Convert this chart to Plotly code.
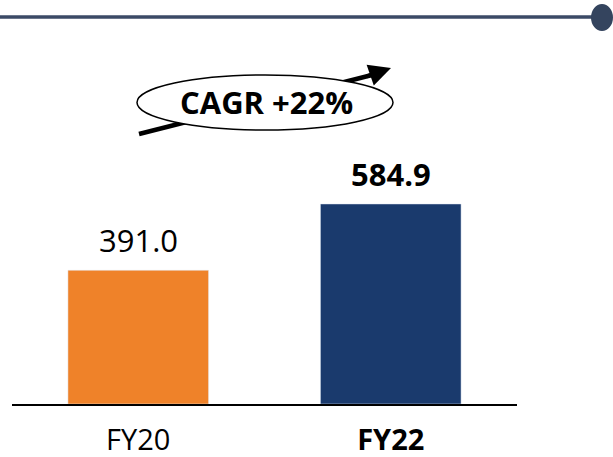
import plotly.graph_objects as go

categories = ["FY20", "FY22"]
values = [391.0, 584.9]
value_labels = ["391.0", "<b>584.9</b>"]
tick_labels = ["FY20", "<b>FY22</b>"]
bar_colors = ["#EF8229", "#1A3A6D"]
cagr_text = "<b>CAGR +22%</b>"

W, H = 613, 457
L, R, T, B = 12, 517, 62, 404

def px(x):
    return (x - L) / (R - L)

def py(y):
    return (B - y) / (B - T)

FONT = "Open Sans"

fig = go.Figure()
fig.add_trace(go.Bar(
    x=categories, y=values, marker_color=bar_colors, width=0.557,
    hoverinfo="skip",
))

annotations = []
for c, v, t in zip(categories, values, value_labels):
    annotations.append(dict(
        x=c, y=v, xref="x", yref="y", text=t, showarrow=False,
        yanchor="bottom", yshift=7,
        font=dict(family=FONT, size=31, color="#000000"),
    ))

# CAGR text
annotations.append(dict(
    x=px(266), y=py(102), xref="paper", yref="paper", text=cagr_text,
    showarrow=False, xanchor="center", yanchor="middle",
    font=dict(family=FONT, size=31, color="#000000"),
))
# arrow head
annotations.append(dict(
    x=px(391), y=py(68), xref="paper", yref="paper", text="",
    showarrow=True, axref="pixel", ayref="pixel", ax=-26, ay=9,
    arrowhead=2, arrowsize=1.1, arrowwidth=4, arrowcolor="#000000",
))

shapes = [
    # header line
    dict(type="line", xref="paper", yref="paper",
         x0=px(0), x1=px(594), y0=py(17), y1=py(17),
         line=dict(color="#3B4A66", width=3.5)),
    dict(type="circle", xref="paper", yref="paper",
         x0=px(591), x1=px(613), y0=py(4), y1=py(31),
         fillcolor="#34445E", line=dict(width=0)),
    # arrow shaft
    dict(type="line", xref="paper", yref="paper",
         x0=px(139), y0=py(134), x1=px(372), y1=py(75),
         line=dict(color="#000000", width=4.5)),
    # ellipse
    dict(type="circle", xref="paper", yref="paper",
         x0=px(137), x1=px(393), y0=py(75), y1=py(130),
         fillcolor="#FFFFFF", line=dict(color="#000000", width=1.5)),
]

fig.update_layout(
    width=W, height=H,
    margin=dict(l=L, r=W - R, t=T, b=H - B, pad=0, autoexpand=False),
    paper_bgcolor="#FFFFFF", plot_bgcolor="#FFFFFF",
    showlegend=False,
    annotations=annotations,
    shapes=shapes,
    xaxis=dict(
        range=[-0.5, 1.5], tickvals=categories, ticktext=tick_labels,
        showline=True, linecolor="#000000", linewidth=2,
        showgrid=False, zeroline=False, ticks="", automargin=False,
        tickfont=dict(family=FONT, size=29, color="#000000"),
        ticklabelstandoff=9,
    ),
    yaxis=dict(range=[0, 1000], visible=False, showgrid=False,
               zeroline=False, automargin=False),
)

fig.write_html("out.html",
               config={"displayModeBar": False, "staticPlot": True},
               post_script="document.body.style.margin='0';document.body.style.overflow='hidden';")
